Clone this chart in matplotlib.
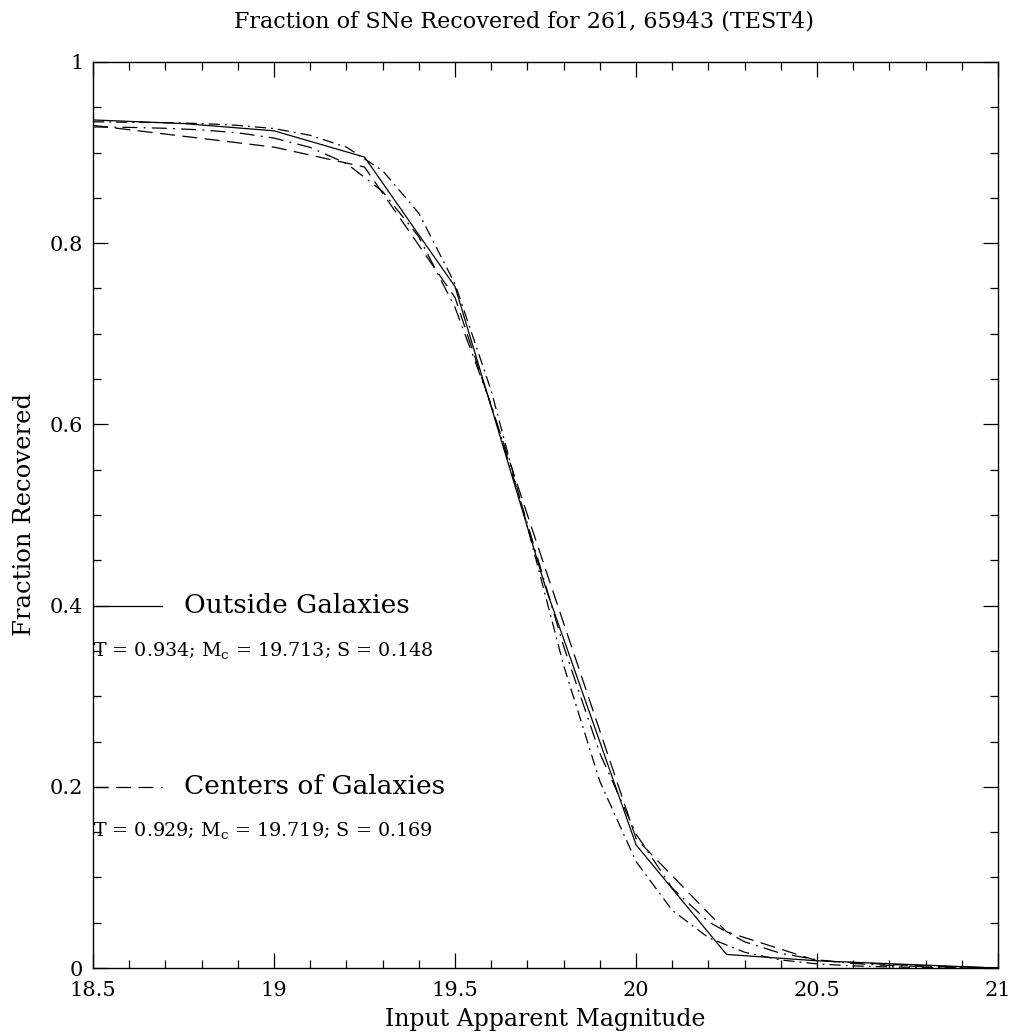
import numpy as np
import matplotlib.pyplot as plt
from matplotlib.ticker import MultipleLocator, FuncFormatter

# measured data (0.25 mag steps)
mag_data = [18.5, 18.75, 19.0, 19.25, 19.5, 19.75, 20.0, 20.25, 20.5, 20.75, 21.0]
frac_outside = [0.936, 0.932, 0.924, 0.895, 0.752, 0.420, 0.136, 0.015, 0.008, 0.004, 0.0]
frac_centers = [0.930, 0.918, 0.906, 0.884, 0.740, 0.440, 0.143, 0.040, 0.008, 0.003, 0.0]

# fitted curves (0.1 mag steps)
mag_fit = [18.5, 18.6, 18.7, 18.8, 18.9, 19.0, 19.1, 19.2, 19.3, 19.4, 19.5, 19.6, 19.7,
           19.8, 19.9, 20.0, 20.1, 20.2, 20.3, 20.4, 20.5, 20.6, 20.7, 20.8, 20.9, 21.0]
fit_outside = [0.934, 0.9335, 0.933, 0.932, 0.930, 0.9265, 0.919, 0.906, 0.880, 0.833,
               0.755, 0.637, 0.487, 0.334, 0.206, 0.1175, 0.0637, 0.0335, 0.0174, 0.0089,
               0.0046, 0.0023, 0.0012, 0.0006, 0.0003, 0.0002]
fit_centers = [0.9283, 0.9278, 0.9268, 0.925, 0.9218, 0.916, 0.9057, 0.888, 0.857, 0.807,
               0.729, 0.6216, 0.4905, 0.355, 0.237, 0.148, 0.0882, 0.051, 0.0289, 0.0162,
               0.0091, 0.0050, 0.0028, 0.0016, 0.0009, 0.0005]

labels = ["Outside Galaxies", "Centers of Galaxies"]
params = [r"T = 0.934; M$_\mathregular{c}$ = 19.713; S = 0.148",
          r"T = 0.929; M$_\mathregular{c}$ = 19.719; S = 0.169"]

plt.rcParams['font.family'] = 'DejaVu Serif'
plt.rcParams['mathtext.fontset'] = 'dejavuserif'

fig = plt.figure(figsize=(10.18, 10.36), dpi=100)
ax = fig.add_axes([0.0914, 0.0656, 0.889, 0.8746])

lw = 0.9
ax.plot(mag_data, frac_outside, color='black', lw=lw, linestyle='-')
ax.plot(mag_data, frac_centers, color='black', lw=lw, dashes=(12, 6))
ax.plot(mag_fit, fit_outside, color='black', lw=lw, dashes=(9, 4, 1.5, 4))
ax.plot(mag_fit, fit_centers, color='black', lw=lw, dashes=(12, 5, 1.5, 5))

ax.set_xlim(18.5, 21)
ax.set_ylim(0, 1)

ax.xaxis.set_major_locator(MultipleLocator(0.5))
ax.xaxis.set_minor_locator(MultipleLocator(0.1))
ax.yaxis.set_major_locator(MultipleLocator(0.2))
ax.yaxis.set_minor_locator(MultipleLocator(0.05))
fmt = FuncFormatter(lambda v, p: '%g' % round(v, 2))
ax.xaxis.set_major_formatter(fmt)
ax.yaxis.set_major_formatter(fmt)
ax.tick_params(which='both', direction='in', top=True, right=True, labelsize=15, width=0.9)
ax.tick_params(which='major', length=11)
ax.tick_params(axis='x', which='major', pad=9)
ax.tick_params(axis='y', which='major', pad=7)
ax.tick_params(which='minor', length=5.5)
for s in ax.spines.values():
    s.set_linewidth(1.0)

# legend drawn in data space
ax.plot([18.5, 18.69], [0.4, 0.4], color='black', lw=lw)
ax.plot([18.5, 18.69], [0.2, 0.2], color='black', lw=lw, dashes=(12, 6))
ax.text(18.75, 0.4, labels[0], fontsize=19, va='center', ha='left')
ax.text(18.75, 0.2, labels[1], fontsize=19, va='center', ha='left')
ax.text(18.5, 0.351, params[0], fontsize=13.8, va='center', ha='left')
ax.text(18.5, 0.152, params[1], fontsize=13.8, va='center', ha='left')

ax.set_title("Fraction of SNe Recovered for 261, 65943 (TEST4)", fontsize=16, pad=25, x=0.476)
ax.set_xlabel("Input Apparent Magnitude", fontsize=17, labelpad=6)
ax.set_ylabel("Fraction Recovered", fontsize=17.5, labelpad=10)

fig.savefig("out.png", dpi=100)
